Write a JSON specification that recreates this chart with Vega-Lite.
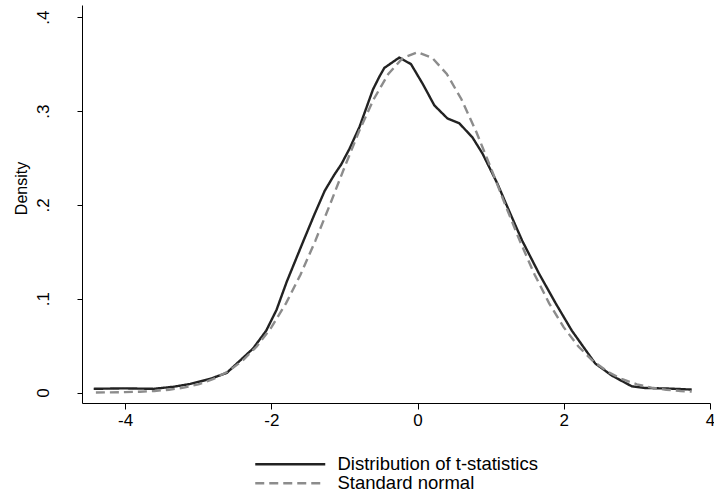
{
  "$schema": "https://vega.github.io/schema/vega-lite/v6.json",
  "autosize": {"type": "none"},
  "width": 628,
  "height": 398,
  "padding": {"left": 82, "top": 5, "right": 4, "bottom": 98},
  "background": "white",
  "config": {
    "view": {"stroke": null},
    "font": "Liberation Sans",
    "axis": {"grid": false, "domainColor": "black", "tickColor": "black", "labelColor": "black", "titleColor": "black", "labelFont": "Liberation Sans", "titleFont": "Liberation Sans", "domainWidth": 1, "tickWidth": 1}
  },
  "data": {"values": [
    {"x": -4.43, "y": 0.004, "series": "Distribution of t-statistics"},
    {"x": -4.02, "y": 0.0045, "series": "Distribution of t-statistics"},
    {"x": -3.61, "y": 0.004, "series": "Distribution of t-statistics"},
    {"x": -3.34, "y": 0.0062, "series": "Distribution of t-statistics"},
    {"x": -3.11, "y": 0.0092, "series": "Distribution of t-statistics"},
    {"x": -2.84, "y": 0.0145, "series": "Distribution of t-statistics"},
    {"x": -2.61, "y": 0.021, "series": "Distribution of t-statistics"},
    {"x": -2.25, "y": 0.047, "series": "Distribution of t-statistics"},
    {"x": -2.07, "y": 0.066, "series": "Distribution of t-statistics"},
    {"x": -1.93, "y": 0.088, "series": "Distribution of t-statistics"},
    {"x": -1.79, "y": 0.118, "series": "Distribution of t-statistics"},
    {"x": -1.57, "y": 0.16, "series": "Distribution of t-statistics"},
    {"x": -1.41, "y": 0.19, "series": "Distribution of t-statistics"},
    {"x": -1.27, "y": 0.215, "series": "Distribution of t-statistics"},
    {"x": -1.14, "y": 0.232, "series": "Distribution of t-statistics"},
    {"x": -1.045, "y": 0.243, "series": "Distribution of t-statistics"},
    {"x": -0.93, "y": 0.26, "series": "Distribution of t-statistics"},
    {"x": -0.795, "y": 0.283, "series": "Distribution of t-statistics"},
    {"x": -0.73, "y": 0.297, "series": "Distribution of t-statistics"},
    {"x": -0.61, "y": 0.323, "series": "Distribution of t-statistics"},
    {"x": -0.52, "y": 0.337, "series": "Distribution of t-statistics"},
    {"x": -0.454, "y": 0.346, "series": "Distribution of t-statistics"},
    {"x": -0.25, "y": 0.357, "series": "Distribution of t-statistics"},
    {"x": -0.09, "y": 0.35, "series": "Distribution of t-statistics"},
    {"x": 0.07, "y": 0.329, "series": "Distribution of t-statistics"},
    {"x": 0.23, "y": 0.306, "series": "Distribution of t-statistics"},
    {"x": 0.41, "y": 0.292, "series": "Distribution of t-statistics"},
    {"x": 0.57, "y": 0.287, "series": "Distribution of t-statistics"},
    {"x": 0.75, "y": 0.272, "series": "Distribution of t-statistics"},
    {"x": 0.886, "y": 0.255, "series": "Distribution of t-statistics"},
    {"x": 1.09, "y": 0.223, "series": "Distribution of t-statistics"},
    {"x": 1.25, "y": 0.194, "series": "Distribution of t-statistics"},
    {"x": 1.43, "y": 0.162, "series": "Distribution of t-statistics"},
    {"x": 1.66, "y": 0.127, "series": "Distribution of t-statistics"},
    {"x": 1.89, "y": 0.095, "series": "Distribution of t-statistics"},
    {"x": 2.11, "y": 0.066, "series": "Distribution of t-statistics"},
    {"x": 2.43, "y": 0.031, "series": "Distribution of t-statistics"},
    {"x": 2.66, "y": 0.018, "series": "Distribution of t-statistics"},
    {"x": 2.93, "y": 0.0067, "series": "Distribution of t-statistics"},
    {"x": 3.11, "y": 0.0049, "series": "Distribution of t-statistics"},
    {"x": 3.43, "y": 0.0043, "series": "Distribution of t-statistics"},
    {"x": 3.75, "y": 0.0032, "series": "Distribution of t-statistics"},
    {"x": -4.4, "y": 0.00012, "series": "Standard normal"},
    {"x": -4.2, "y": 0.00025, "series": "Standard normal"},
    {"x": -4.0, "y": 0.00049, "series": "Standard normal"},
    {"x": -3.8, "y": 0.00093, "series": "Standard normal"},
    {"x": -3.6, "y": 0.00171, "series": "Standard normal"},
    {"x": -3.4, "y": 0.00305, "series": "Standard normal"},
    {"x": -3.2, "y": 0.00527, "series": "Standard normal"},
    {"x": -3.0, "y": 0.0088, "series": "Standard normal"},
    {"x": -2.8, "y": 0.0142, "series": "Standard normal"},
    {"x": -2.6, "y": 0.0222, "series": "Standard normal"},
    {"x": -2.4, "y": 0.0336, "series": "Standard normal"},
    {"x": -2.2, "y": 0.0491, "series": "Standard normal"},
    {"x": -2.0, "y": 0.0695, "series": "Standard normal"},
    {"x": -1.8, "y": 0.0951, "series": "Standard normal"},
    {"x": -1.6, "y": 0.1259, "series": "Standard normal"},
    {"x": -1.4, "y": 0.1614, "series": "Standard normal"},
    {"x": -1.2, "y": 0.2, "series": "Standard normal"},
    {"x": -1.0, "y": 0.2399, "series": "Standard normal"},
    {"x": -0.8, "y": 0.2784, "series": "Standard normal"},
    {"x": -0.6, "y": 0.3126, "series": "Standard normal"},
    {"x": -0.4, "y": 0.3395, "series": "Standard normal"},
    {"x": -0.2, "y": 0.3568, "series": "Standard normal"},
    {"x": 0.0, "y": 0.3627, "series": "Standard normal"},
    {"x": 0.2, "y": 0.3568, "series": "Standard normal"},
    {"x": 0.4, "y": 0.3395, "series": "Standard normal"},
    {"x": 0.6, "y": 0.3126, "series": "Standard normal"},
    {"x": 0.8, "y": 0.2784, "series": "Standard normal"},
    {"x": 1.0, "y": 0.2399, "series": "Standard normal"},
    {"x": 1.2, "y": 0.2, "series": "Standard normal"},
    {"x": 1.4, "y": 0.1614, "series": "Standard normal"},
    {"x": 1.6, "y": 0.1259, "series": "Standard normal"},
    {"x": 1.8, "y": 0.0951, "series": "Standard normal"},
    {"x": 2.0, "y": 0.0695, "series": "Standard normal"},
    {"x": 2.2, "y": 0.0491, "series": "Standard normal"},
    {"x": 2.4, "y": 0.0336, "series": "Standard normal"},
    {"x": 2.6, "y": 0.0222, "series": "Standard normal"},
    {"x": 2.8, "y": 0.0142, "series": "Standard normal"},
    {"x": 3.0, "y": 0.0088, "series": "Standard normal"},
    {"x": 3.2, "y": 0.00527, "series": "Standard normal"},
    {"x": 3.4, "y": 0.00305, "series": "Standard normal"},
    {"x": 3.6, "y": 0.00171, "series": "Standard normal"},
    {"x": 3.75, "y": 0.00109, "series": "Standard normal"}
  ]},
  "mark": {"type": "line", "strokeWidth": 2.4, "clip": false},
  "encoding": {
    "x": {
      "field": "x", "type": "quantitative",
      "scale": {"domain": [-4.59, 4.0], "nice": false, "zero": false},
      "axis": {"values": [-4, -2, 0, 2, 4], "title": null, "labelFontSize": 17, "tickSize": 6, "labelPadding": 3, "labelFlush": false, "labelOverlap": false, "labelExpr": "datum.value < 0 ? '-' + abs(datum.value) : '' + datum.value"}
    },
    "y": {
      "field": "y", "type": "quantitative",
      "scale": {"domain": [-0.0111, 0.413], "nice": false, "zero": false},
      "axis": {"values": [0, 0.1, 0.2, 0.3, 0.4], "title": "Density", "titleFontSize": 16, "titleFontWeight": "normal", "titleY": 183, "labelFontSize": 17, "tickSize": 5, "labelAngle": -90, "labelAlign": "center", "labelBaseline": "bottom", "labelPadding": 25, "titlePadding": 5, "labelExpr": "datum.value == 0 ? '0' : replace(format(datum.value, '.1f'), '0.', '.')", "labelFlush": false, "labelOverlap": false}
    },
    "color": {
      "field": "series", "type": "nominal",
      "scale": {"domain": ["Distribution of t-statistics", "Standard normal"], "range": ["#222222", "#8c8c8c"]},
      "legend": {"title": null, "orient": "none", "legendX": 199, "legendY": 450, "direction": "vertical", "symbolType": "M-7,0H7", "symbolSize": 100, "symbolStrokeWidth": 2.4, "labelFontSize": 18.5, "labelFont": "Liberation Sans", "labelColor": "black", "labelOffset": 38, "labelLimit": 400, "rowPadding": 0, "padding": 0}
    },
    "strokeDash": {
      "field": "series", "type": "nominal",
      "scale": {"domain": ["Distribution of t-statistics", "Standard normal"], "range": [[1, 0], [9, 5]]},
      "legend": {"title": null, "orient": "none", "legendX": 199, "legendY": 450, "direction": "vertical", "symbolType": "M-7,0H7", "symbolSize": 100, "symbolStrokeWidth": 2.4, "labelFontSize": 18.5, "labelFont": "Liberation Sans", "labelColor": "black", "labelOffset": 38, "labelLimit": 400, "rowPadding": 0, "padding": 0}
    }
  }
}
